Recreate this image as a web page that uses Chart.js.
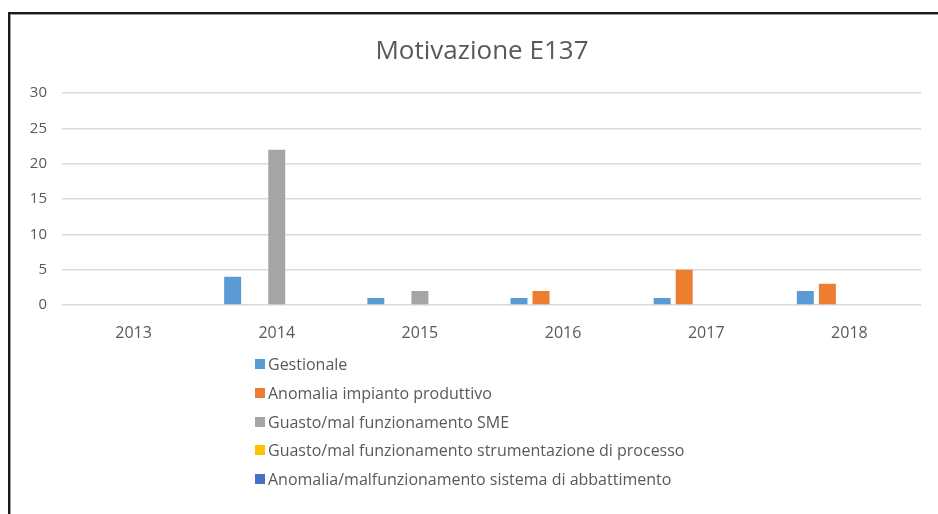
<!DOCTYPE html>
<html>
<head>
<meta charset="utf-8">
<script src="https://cdn.jsdelivr.net/npm/chart.js@4/dist/chart.umd.min.js"></script>
<style>
  html, body { margin: 0; padding: 0; background: #fff; }
  #wrap { position: relative; width: 938px; height: 514px; overflow: hidden; }
  #c { position: absolute; left: 0; top: 0; }
  #frame { position: absolute; left: 8px; top: 12px; width: 1000px; height: 600px;
           border-left: 2px solid #1a1a1a; border-top: 2px solid #1a1a1a;
           box-shadow: inset 1px 1px 0 #9a9a9a; pointer-events: none; }
  #legend { position: absolute; left: 255px; top: 350px; font-family: "Open Sans", sans-serif;
            font-size: 16px; color: #595959; }
  #legend .it { height: 28.7px; display: flex; align-items: center; white-space: nowrap; }
  #legend .sw { width: 10px; height: 10px; margin-right: 3px; display: inline-block; }
</style>
</head>
<body>
<div id="wrap">
  <canvas id="c" width="938" height="514"></canvas>
  <div id="frame"></div>
  <div id="legend"></div>
</div>
<script>
const categories = ["2013", "2014", "2015", "2016", "2017", "2018"];
const seriesNames = [
  "Gestionale",
  "Anomalia impianto produttivo",
  "Guasto/mal funzionamento SME",
  "Guasto/mal funzionamento strumentazione di processo",
  "Anomalia/malfunzionamento sistema di abbattimento"
];
const gestionale = [0, 4, 1, 1, 1, 2];
const anomaliaImpianto = [0, 0, 0, 2, 5, 3];
const guastoSME = [0, 22, 2, 0, 0, 0];
const guastoStrumentazione = [0, 0, 0, 0, 0, 0];
const anomaliaAbbattimento = [0, 0, 0, 0, 0, 0];
const colors = ["#5B9BD5", "#ED7D31", "#A5A5A5", "#FFC000", "#4472C4"];
const yTicks = [0, 5, 10, 15, 20, 25, 30];

const seriesData = [gestionale, anomaliaImpianto, guastoSME, guastoStrumentazione, anomaliaAbbattimento];

const shiftTitle = {
  id: 'shiftTitle',
  afterLayout(chart) {
    const t = chart.titleBlock;
    if (t) { t.left = 43; t.right = 921; }
  }
};

const chart = new Chart(document.getElementById('c'), {
  type: 'bar',
  data: {
    labels: categories,
    datasets: seriesNames.map((n, i) => ({
      label: n,
      data: seriesData[i],
      backgroundColor: colors[i],
      borderWidth: 0,
      categoryPercentage: 0.77,
      barPercentage: 0.77
    }))
  },
  plugins: [shiftTitle],
  options: {
    responsive: false,
    animation: false,
    layout: { padding: { left: 0, right: 17, top: 0, bottom: 169 } },
    plugins: {
      legend: { display: false },
      tooltip: { enabled: false },
      title: {
        display: true,
        text: "Motivazione E137",
        color: "#595959",
        font: { family: "Open Sans", size: 26, weight: 'normal' },
        padding: { top: 36, bottom: 26 }
      }
    },
    scales: {
      x: {
        grid: { display: false },
        border: { display: false },
        ticks: { color: "#595959", font: { family: "Open Sans", size: 16 }, padding: 11 },
        afterFit: s => { s.height = 40; }
      },
      y: {
        min: 0, max: 30,
        afterBuildTicks: s => { s.ticks = yTicks.map(v => ({ value: v })); },
        grid: { color: "#d9d9d9", lineWidth: 1.5, drawTicks: false },
        border: { display: false },
        ticks: { color: "#595959", font: { family: "Open Sans", size: 15 }, padding: 15 },
        afterFit: s => { s.width = 62; }
      }
    }
  }
});

const leg = document.getElementById('legend');
chart.data.datasets.forEach(ds => {
  const it = document.createElement('div');
  it.className = 'it';
  const sw = document.createElement('span');
  sw.className = 'sw';
  sw.style.background = ds.backgroundColor;
  it.appendChild(sw);
  it.appendChild(document.createTextNode(ds.label));
  leg.appendChild(it);
});
</script>
</body>
</html>
